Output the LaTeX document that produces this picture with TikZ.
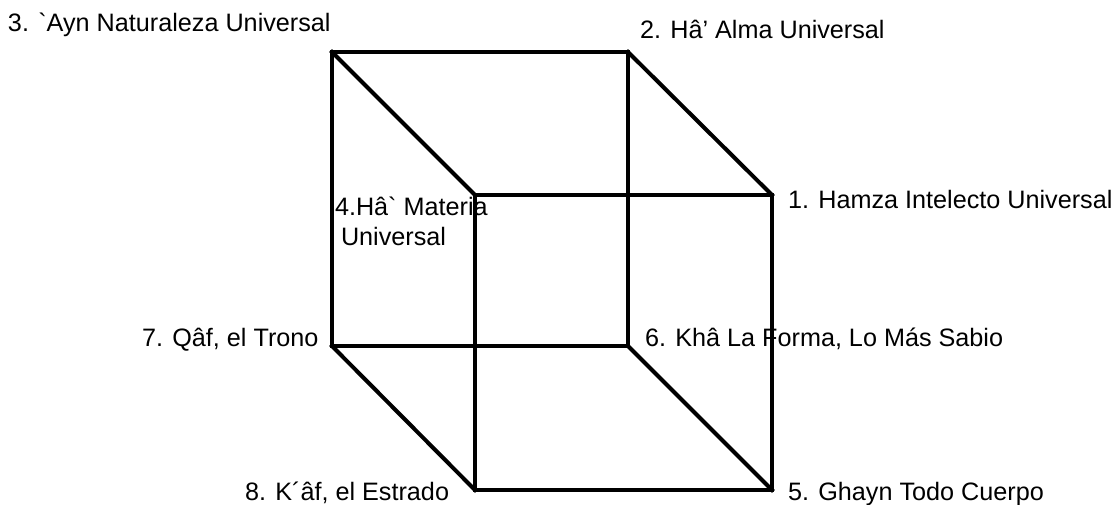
\documentclass[tikz,border=0pt]{standalone}
\usepackage{fontspec}
\setmainfont{Liberation Sans}[Ligatures=TeXOff]
\begin{document}
\begin{tikzpicture}[x=1pt,y=-1pt,
  edge/.style={line width=4pt,line cap=rect,line join=miter},
  lbl/.style={anchor=base west,inner sep=0pt,outer sep=0pt,font=\fontsize{25.2}{30}\selectfont}]
\useasboundingbox (0,0) rectangle (1112,504);
% back face
\coordinate (btl) at (332,52);
\coordinate (btr) at (628,52);
\coordinate (bbl) at (332,346);
\coordinate (bbr) at (628,346);
% front face
\coordinate (ftl) at (475,195);
\coordinate (ftr) at (772,195);
\coordinate (fbl) at (475,490);
\coordinate (fbr) at (772,490);
\draw[edge] (btl) -- (btr) -- (bbr) -- (bbl) -- cycle;
\draw[edge] (ftl) -- (ftr) -- (fbr) -- (fbl) -- cycle;
\draw[edge] (btl) -- (ftl);
\draw[edge] (btr) -- (ftr);
\draw[edge] (bbl) -- (fbl);
\draw[edge] (bbr) -- (fbr);
% labels
\node[lbl] (l3) at (8,31) {3. `Ayn Naturaleza Universal};
\node[lbl] (l2) at (640,38) {2. Hâ’ Alma Universal};
\node[lbl] (l1) at (788,208) {1. Hamza Intelecto Universal};
\node[lbl,align=left] (l4) at (335,245) {4.Hâ` Materia\\\hspace*{6pt}Universal};
\node[lbl] (l7) at (142,346) {7. Qâf, el Trono};
\node[lbl] (l6) at (645,346) {6. Khâ La Forma, Lo Más Sabio};
\node[lbl] (l8) at (245,500) {8. K\symbol{"B4}âf, el Estrado};
\node[lbl] (l5) at (788,500) {5. Ghayn Todo Cuerpo};
\end{tikzpicture}
\end{document}
